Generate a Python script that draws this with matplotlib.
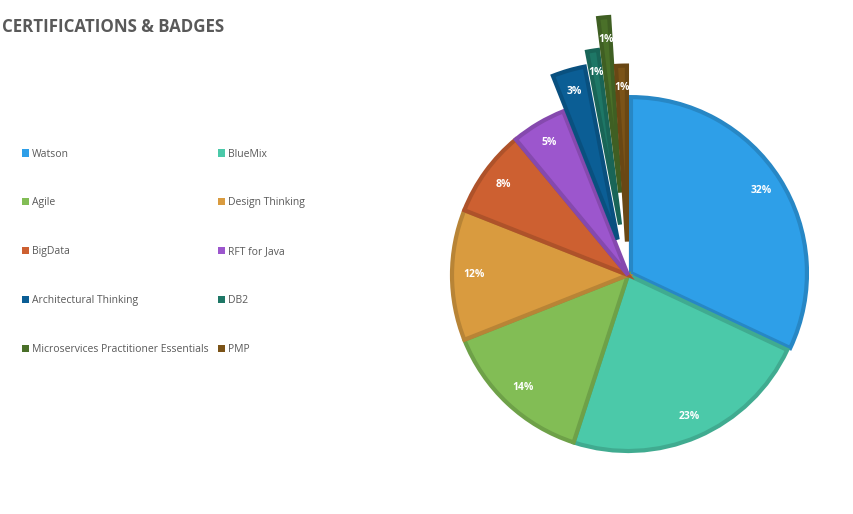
import numpy as np
import matplotlib.pyplot as plt
import matplotlib.colors as mcolors
from matplotlib.patches import Patch

labels = ["Watson", "BlueMix", "Agile", "Design Thinking", "BigData",
          "RFT for Java", "Architectural Thinking", "DB2",
          "Microservices Practitioner Essentials", "PMP"]
shares = [32, 23, 14, 12, 8, 5, 3, 1, 1, 1]
colors = ["#2E9FE8", "#4BC9A9", "#82BD55", "#D99B3F", "#CD6031",
          "#9C56CD", "#0B5E95", "#1E7766", "#4A7029", "#7B5317"]
# explode as a fraction of the radius
explode = [0.02, 0, 0, 0, 0, 0, 0.21, 0.29, 0.47, 0.19]

plt.rcParams['font.family'] = ['Open Sans', 'DejaVu Sans']

fig = plt.figure(figsize=(8.54, 5.14), dpi=100)
ax = fig.add_axes([0, 0, 1, 1])

def darker(c, f=0.85):
    r, g, b = mcolors.to_rgb(c)
    return (r * f, g * f, b * f)

R = 176
wedges, texts, autotexts = ax.pie(
    shares, colors=colors, explode=[e * R for e in explode], startangle=90,
    counterclock=False, center=(628, 239), radius=R, autopct='%1.0f%%',
    pctdistance=0.875, wedgeprops=dict(linewidth=3),
    textprops=dict(color='white', fontsize=7.5, fontweight='bold'))
for w, c in zip(wedges, colors):
    w.set_edgecolor(darker(c))
    w.set_joinstyle('miter')

# pie() resets the limits, so set them afterwards
ax.set_xlim(0, 854)
ax.set_ylim(0, 514)
ax.set_aspect('equal')
ax.axis('off')

# legend, two columns filled row by row
order = [0, 2, 4, 6, 8, 1, 3, 5, 7, 9]
handles = [Patch(facecolor=colors[i], edgecolor='none') for i in order]
leg = fig.legend(handles, [labels[i] for i in order], ncol=2,
                 loc='upper left', bbox_to_anchor=(0.0255, 0.711),
                 frameon=False, fontsize=7.5, labelcolor='#595959',
                 handlelength=0.7, handleheight=0.7, handletextpad=0.3,
                 labelspacing=3.64, columnspacing=0.85, borderpad=0, borderaxespad=0)

fig.text(0.002, 0.947, "CERTIFICATIONS & BADGES", fontsize=12.2,
         fontweight='bold', color='#595959', va='center', ha='left')

fig.savefig("out.png", dpi=100)
